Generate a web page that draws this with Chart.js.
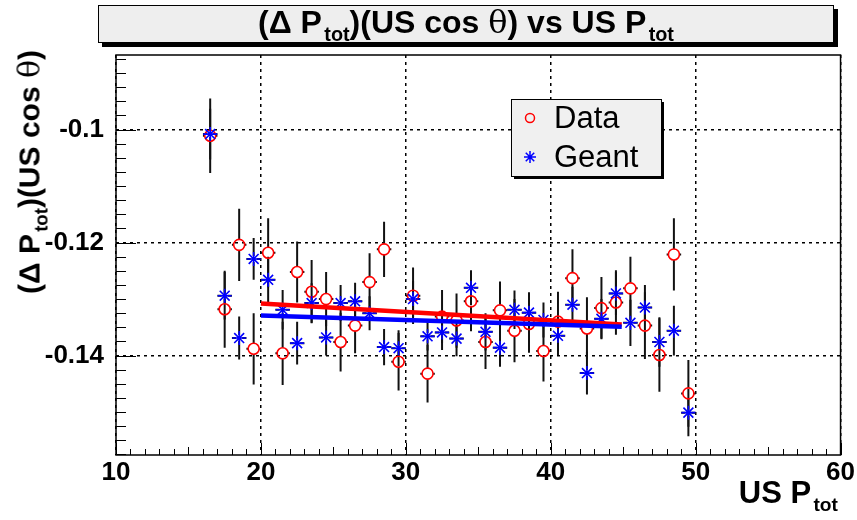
<!DOCTYPE html>
<html>
<head>
<meta charset="utf-8">
<script src="https://cdn.jsdelivr.net/npm/chart.js@4.4.0/dist/chart.umd.min.js"></script>
<style>
body { margin: 0; background: #fff; }
#wrap { position: relative; width: 857px; height: 520px; font-family: 'Liberation Sans', Arial, sans-serif; }
#chart { position: absolute; left: 0; top: 0; }
.sub { font-size: 0.62em; position: relative; top: 0.42em; margin-left: 0.12em; }
.sym { font-family: 'DejaVu Serif', serif; font-weight: normal; }
#title { position: absolute; left: 98px; top: 5px; width: 734px; height: 36px; background: #eeeeee;
         border: 1px solid #000; box-shadow: 4px 4px 0 #000; text-align: center;
         font-weight: bold; font-size: 32px; line-height: 33px; white-space: nowrap; }
#ytitle { position: absolute; left: 29px; top: 172px; width: 320px; text-align: center;
          transform: translate(-50%, -50%) rotate(-90deg); font-weight: bold; font-size: 30px; white-space: nowrap; }
#xtitle { position: absolute; right: 19px; top: 475px; font-weight: bold; font-size: 31px; white-space: nowrap; }
</style>
</head>
<body>
<div id="wrap">
  <canvas id="chart" width="857" height="520"></canvas>
  <div id="title">(&Delta; P<span class="sub">tot</span>)(US cos <span class="sym">&theta;</span>) vs US P<span class="sub">tot</span></div>
  <div id="ytitle">(&Delta; P<span class="sub">tot</span>)(US cos <span class="sym">&theta;</span>)</div>
  <div id="xtitle">US P<span class="sub">tot</span></div>
</div>
<script>
// bin centres (US P_tot)
const pTot = [16.5, 17.5, 18.5, 19.5, 20.5, 21.5, 22.5, 23.5, 24.5, 25.5, 26.5, 27.5,
              28.5, 29.5, 30.5, 31.5, 32.5, 33.5, 34.5, 35.5, 36.5, 37.5, 38.5, 39.5,
              40.5, 41.5, 42.5, 43.5, 44.5, 45.5, 46.5, 47.5, 48.5, 49.5];
const binHalf = 0.5;

const dataVals = [-0.1011, -0.1318, -0.1204, -0.1388, -0.1218, -0.1396, -0.1252, -0.1287, -0.1300, -0.1376,
                  -0.1347, -0.1270, -0.1212, -0.1411, -0.1294, -0.1432, -0.1331, -0.1338, -0.1304, -0.1376,
                  -0.1320, -0.1356, -0.1344, -0.1392, -0.1340, -0.1263, -0.1352, -0.1316, -0.1306, -0.1281,
                  -0.1347, -0.1399, -0.1221, -0.1467];
const dataErr = [0.0066, 0.0068, 0.0064, 0.0063, 0.0061, 0.0056, 0.0054, 0.0056, 0.0048, 0.0052,
                 0.0049, 0.0051, 0.0049, 0.0051, 0.0050, 0.0051, 0.0047, 0.0048, 0.0053, 0.0048,
                 0.0051, 0.0056, 0.0051, 0.0054, 0.0053, 0.0051, 0.0055, 0.0055, 0.0057, 0.0056,
                 0.0059, 0.0065, 0.0064, 0.0059];

const geantVals = [-0.1008, -0.1294, -0.1369, -0.1229, -0.1266, -0.1319, -0.1378, -0.1307, -0.1368, -0.1307,
                   -0.1304, -0.1325, -0.1385, -0.1387, -0.1300, -0.1366, -0.1359, -0.1370, -0.1280, -0.1358,
                   -0.1386, -0.1319, -0.1324, -0.1337, -0.1365, -0.1310, -0.1431, -0.1335, -0.1290, -0.1342,
                   -0.1315, -0.1376, -0.1356, -0.1501];
const geantErr = [0.0045, 0.0042, 0.0038, 0.0037, 0.0041, 0.0035, 0.0038, 0.0035, 0.0032, 0.0032,
                  0.0033, 0.0030, 0.0032, 0.0032, 0.0032, 0.0025, 0.0031, 0.0031, 0.0031, 0.0033,
                  0.0034, 0.0034, 0.0036, 0.0031, 0.0034, 0.0032, 0.0038, 0.0035, 0.0038, 0.0041,
                  0.0040, 0.0044, 0.0044, 0.0042];

// straight-line fits (end points)
const fitX = [20, 44.9];
const dataFit = [-0.1308, -0.1345];
const geantFit = [-0.1329, -0.1349];

const xTicks = [10, 20, 30, 40, 50, 60];
const yTicks = [-0.14, -0.12, -0.1];
const xRange = [10, 60];
const yRange = [-0.1576, -0.0868];

const toPts = (xs, ys) => xs.map((x, i) => ({ x: x, y: ys[i] }));

// error bars, frame, inner ticks and legend
const rootStyle = {
    id: 'rootStyle',
    beforeDatasetsDraw(chart) {
        const { ctx, chartArea: a, scales: { x, y } } = chart;
        ctx.save();
        ctx.beginPath();
        ctx.rect(a.left, a.top, a.right - a.left, a.bottom - a.top);
        ctx.clip();
        ctx.strokeStyle = '#111';
        ctx.lineWidth = 2;
        const bars = (vals, errs, gap) => {
            pTot.forEach((px, i) => {
                const cx = x.getPixelForValue(px);
                const cy = y.getPixelForValue(vals[i]);
                const yt = y.getPixelForValue(vals[i] + errs[i]);
                const yb = y.getPixelForValue(vals[i] - errs[i]);
                const xl = x.getPixelForValue(px - binHalf);
                const xr = x.getPixelForValue(px + binHalf);
                ctx.beginPath();
                ctx.moveTo(cx, yt); ctx.lineTo(cx, cy - gap);
                ctx.moveTo(cx, cy + gap); ctx.lineTo(cx, yb);
                ctx.moveTo(xl, cy); ctx.lineTo(cx - gap, cy);
                ctx.moveTo(cx + gap, cy); ctx.lineTo(xr, cy);
                ctx.stroke();
            });
        };
        bars(dataVals, dataErr, 5.5);
        bars(geantVals, geantErr, 3);
        ctx.restore();
    },
    afterDraw(chart) {
        const { ctx, chartArea: a, scales: { x, y } } = chart;
        ctx.save();
        ctx.strokeStyle = '#000';
        ctx.lineWidth = 1;
        // ticks inside the frame
        ctx.beginPath();
        for (let v = xRange[0]; v <= xRange[1] + 1e-9; v += 1) {
            const px = Math.round(x.getPixelForValue(v)) + 0.5;
            const len = (v % 10 === 0) ? 12 : (v % 5 === 0 ? 8 : 6);
            ctx.moveTo(px, a.bottom); ctx.lineTo(px, a.bottom - len);
        }
        for (let k = 0; ; k++) {
            const v = -0.16 + k * 0.0025;
            if (v > yRange[1]) break;
            if (v < yRange[0]) continue;
            const py = Math.round(y.getPixelForValue(v)) + 0.5;
            const major = Math.abs((v / 0.02) - Math.round(v / 0.02)) < 1e-6;
            ctx.moveTo(a.left, py); ctx.lineTo(a.left + (major ? 20 : 10), py);
        }
        ctx.stroke();
        // frame
        ctx.lineWidth = 1.5;
        ctx.strokeRect(a.left, a.top, a.right - a.left, a.bottom - a.top);

        // legend
        const lx = 511, ly = 99, lw = 150, lh = 77;
        ctx.fillStyle = '#000';
        ctx.fillRect(lx + 3, ly + 3, lw, lh);
        ctx.fillStyle = '#f0f0f0';
        ctx.fillRect(lx, ly, lw, lh);
        ctx.lineWidth = 1;
        ctx.strokeRect(lx + 0.5, ly + 0.5, lw, lh);
        ctx.lineWidth = 1.5;
        ctx.strokeStyle = '#ff0000';
        ctx.beginPath();
        ctx.arc(lx + 19, ly + 19, 4.5, 0, Math.PI * 2);
        ctx.stroke();
        ctx.strokeStyle = '#0000ff';
        ctx.beginPath();
        const sx = lx + 19, sy = ly + 58, r = 6;
        for (let k = 0; k < 4; k++) {
            const ang = k * Math.PI / 4;
            ctx.moveTo(sx - r * Math.cos(ang), sy - r * Math.sin(ang));
            ctx.lineTo(sx + r * Math.cos(ang), sy + r * Math.sin(ang));
        }
        ctx.stroke();
        ctx.fillStyle = '#000';
        ctx.font = '31px "Liberation Sans"';
        ctx.textBaseline = 'middle';
        ctx.fillText('Data', lx + 43, ly + 20);
        ctx.fillText('Geant', lx + 43, ly + 59);
        ctx.restore();
    }
};

Chart.defaults.font.family = '"Liberation Sans", Arial, sans-serif';

new Chart(document.getElementById('chart'), {
    type: 'scatter',
    data: {
        datasets: [
            {
                label: 'Geant fit', type: 'line', order: 0,
                data: toPts(fitX, geantFit),
                borderColor: '#0000ff', borderWidth: 4.5, pointRadius: 0, fill: false
            },
            {
                label: 'Data fit', type: 'line', order: 1,
                data: toPts(fitX, dataFit),
                borderColor: '#ff0000', borderWidth: 4.5, pointRadius: 0, fill: false
            },
            {
                label: 'Geant', order: 2,
                data: toPts(pTot, geantVals),
                pointStyle: 'star', pointRadius: 7, borderColor: '#0000ff', borderWidth: 1.6,
                backgroundColor: '#0000ff'
            },
            {
                label: 'Data', order: 3,
                data: toPts(pTot, dataVals),
                pointStyle: 'circle', pointRadius: 5.5, borderColor: '#ff0000', borderWidth: 1.6,
                backgroundColor: 'rgba(0,0,0,0)'
            }
        ]
    },
    options: {
        responsive: false,
        animation: false,
        layout: { padding: { left: 0, right: 16, top: 55, bottom: 0 } },
        plugins: { legend: { display: false }, tooltip: { enabled: false }, title: { display: false } },
        scales: {
            x: {
                type: 'linear', min: xRange[0], max: xRange[1],
                afterBuildTicks: s => { s.ticks = xTicks.map(v => ({ value: v })); },
                afterFit: s => { s.height = 65; },
                ticks: { color: '#000', font: { size: 26, weight: 'bold' }, padding: 2, maxRotation: 0 },
                grid: { color: '#000', lineWidth: 1.5, drawTicks: false },
                border: { display: false, dash: [3, 4] }
            },
            y: {
                type: 'linear', min: yRange[0], max: yRange[1],
                afterBuildTicks: s => { s.ticks = yTicks.map(v => ({ value: v })); },
                afterFit: s => { s.width = 116; },
                ticks: { color: '#000', font: { size: 26, weight: 'bold' }, padding: 12,
                         callback: v => String(Math.round(v * 100) / 100) },
                grid: { color: '#000', lineWidth: 1.5, drawTicks: false },
                border: { display: false, dash: [3, 4] }
            }
        }
    },
    plugins: [rootStyle]
});
</script>
</body>
</html>
